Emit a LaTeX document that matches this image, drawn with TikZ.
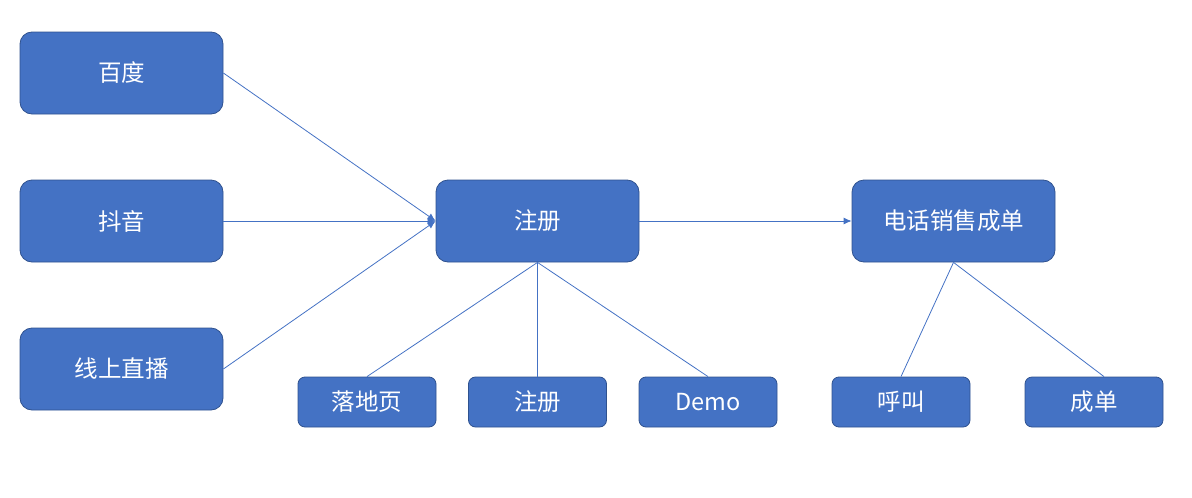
\documentclass[tikz,border=0pt]{standalone}
\usepackage{fontspec}
\setmainfont{Noto Sans CJK SC}
\usetikzlibrary{arrows.meta}
\definecolor{boxfill}{HTML}{4472C4}
\definecolor{boxline}{HTML}{2F528F}
\definecolor{conn}{HTML}{4472C4}
\begin{document}
\begin{tikzpicture}[x=1pt,y=-1pt,
  bigbox/.style={draw=boxline,fill=boxfill,line width=0.8pt,rounded corners=12pt,minimum width=203pt,minimum height=82pt,text=white,font=\fontsize{23.5}{28}\selectfont,inner sep=0pt},
  smallbox/.style={draw=boxline,fill=boxfill,line width=0.8pt,rounded corners=7pt,minimum width=138pt,minimum height=50pt,text=white,font=\fontsize{23.5}{28}\selectfont,inner sep=0pt},
  link/.style={draw=conn,line width=0.8pt},
  arr/.style={link,-{Latex[length=8pt,width=7pt]}}]
\useasboundingbox (0,0) rectangle (1192,498);
\node[bigbox] (baidu) at (121.5,73) {百度};
\node[bigbox] (douyin) at (121.5,221) {抖音};
\node[bigbox] (live) at (121.5,369) {线上直播};
\node[bigbox] (reg) at (537.5,221) {注册};
\node[bigbox] (sale) at (953.5,221) {电话销售成单};
\node[smallbox] (land) at (367,402) {落地页};
\node[smallbox] (reg2) at (537.5,402) {注册};
\node[smallbox] (demo) at (708,402) {Demo};
\node[smallbox] (call) at (901,402) {呼叫};
\node[smallbox] (deal) at (1094,402) {成单};
\coordinate (dealtop) at ([xshift=10pt]deal.north);
\draw[arr] (baidu.east) -- (reg.west);
\draw[arr] (douyin.east) -- (reg.west);
\draw[arr] (live.east) -- (reg.west);
\draw[arr] (reg.east) -- (sale.west);
\draw[link] (reg.south) -- (land.north);
\draw[link] (reg.south) -- (reg2.north);
\draw[link] (reg.south) -- (demo.north);
\draw[link] (sale.south) -- (call.north);
\draw[link] (sale.south) -- (dealtop);
\end{tikzpicture}
\end{document}
